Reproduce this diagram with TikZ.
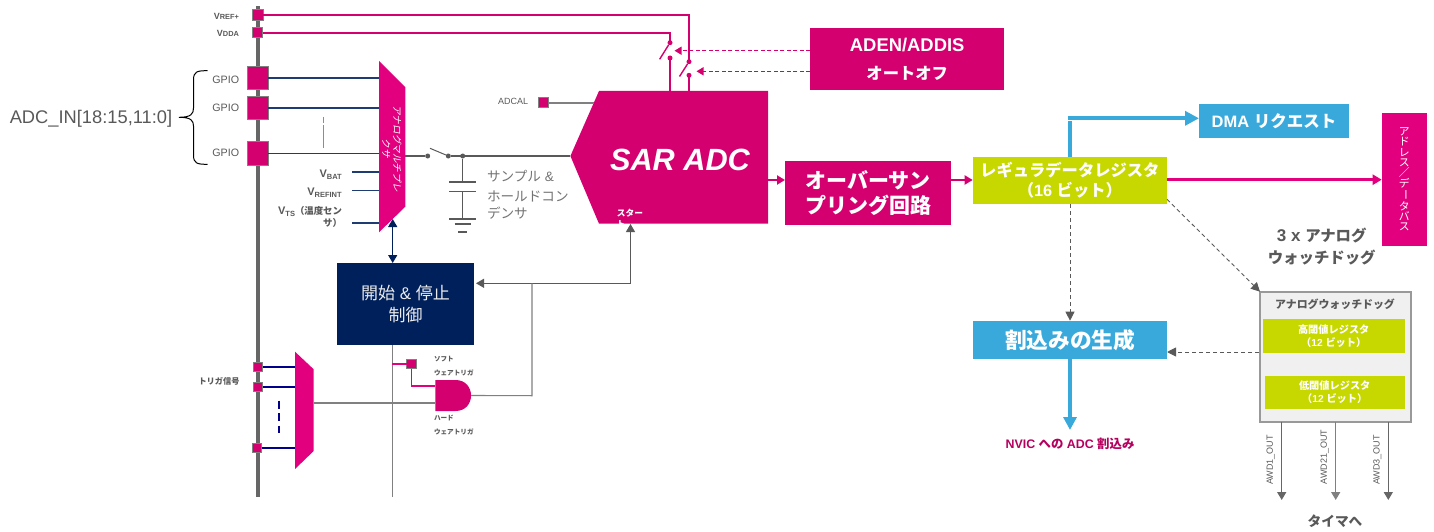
\documentclass[tikz,border=0pt]{standalone}
\usepackage{fontspec}
\usetikzlibrary{arrows.meta,calc}
\setmainfont{Liberation Sans}
\newfontfamily\jp{Noto Sans CJK JP}
\newfontfamily\jpslant[FakeSlant=0.2]{Noto Sans CJK JP}
\newcommand\J[1]{{\jp #1}}
\newcommand\fsz[1]{\fontsize{#1}{#1}\selectfont}
\definecolor{mag}{HTML}{D5006F}
\definecolor{magb}{HTML}{E2007E}
\definecolor{lime}{HTML}{C6D800}
\definecolor{sky}{HTML}{39A9DC}
\definecolor{navy}{HTML}{00205B}
\definecolor{dkg}{HTML}{595959}
\definecolor{busg}{HTML}{666666}
\definecolor{midg}{HTML}{808080}
\definecolor{blu}{HTML}{00008B}
\definecolor{wire}{HTML}{1F3B73}
\tikzset{
  blk/.style={draw=none,inner sep=0pt,outer sep=0pt,align=center,text=white,font=\bfseries},
  pad/.style={fill=mag,draw=midg,line width=1pt,inner sep=0pt,outer sep=0pt},
  ghost/.style={inner sep=0pt,outer sep=0pt},
  lbl/.style={inner sep=0pt,outer sep=0pt,text=dkg,align=center},
  rlbl/.style={lbl,anchor=east,align=right},
  busline/.style={draw=busg,line width=3.6pt},
  wireline/.style={draw=wire,line width=1.3pt},
  trigline/.style={draw=blu,line width=1.6pt},
  greyline/.style={draw=midg,line width=1.6pt},
  thing/.style={draw=dkg,line width=1.4pt},
  pwr/.style={draw=mag,line width=2pt},
  ctl/.style={draw=mag,line width=1.2pt,dash pattern=on 4pt off 2.5pt,-{Triangle[length=7pt,width=8pt]}},
  dsh/.style={draw=dkg,line width=.9pt,dash pattern=on 4pt off 3pt,-{Triangle[length=9pt,width=9pt]}},
  grar/.style={line width=1.5pt,-{Triangle[length=8pt,width=9pt]}},
  magar/.style={draw=mag,line width=2.2pt,-{Triangle[length=8pt,width=9pt]}},
  skyar/.style={draw=sky,-{Triangle[length=13pt,width=13pt]}},
  sw/.style={circle,fill=dkg,inner sep=0pt,minimum size=5pt},
  swm/.style={circle,fill=mag,inner sep=0pt,minimum size=5pt},
}
% name, x1,y1,x2,y2, style, text
\newcommand\bx[7]{%
  \pgfmathsetmacro\bxa{(#2+#4)/2}\pgfmathsetmacro\bxb{(#3+#5)/2}%
  \pgfmathsetmacro\bxw{#4-#2}\pgfmathsetmacro\bxh{#5-#3}%
  \node[#6,minimum width=\bxw pt,minimum height=\bxh pt] (#1) at (\bxa,\bxb) {#7};}
\begin{document}
\begin{tikzpicture}[x=1pt,y=-1pt]
\useasboundingbox (0,0) rectangle (1434,532);
% ---------- buses
\coordinate (bustop) at (257.7,6);
\coordinate (busbot) at (257.7,496.5);
\draw[busline] (bustop) -- (busbot);
% ---------- ghost extents of drawn polygons
\bx{mux}{379}{61}{405.3}{232.3}{ghost}{}
\bx{mxt}{295}{351.7}{313.7}{469}{ghost}{}
\bx{sar}{570.4}{91}{768}{223.7}{ghost}{}
% ---------- control box
\bx{ctrl}{337}{263}{474}{345}{blk,fill=navy,font=\normalfont\fsz{17},text=white!92!black}{\J{開始} \& \J{停止}\\[5.5pt]\J{制御}}
\coordinate (ctrlbus) at (392.3,497);
\draw[greyline] (ctrl.south -| ctrlbus) -- (ctrlbus);
% ---------- GPIO
\bx{gpio1}{247}{66.3}{268.3}{90}{pad}{}
\bx{gpio2}{247}{96.3}{268.3}{119.7}{pad}{}
\bx{gpio3}{247}{141.7}{268.3}{165}{pad}{}
\foreach \n/\y in {gl1/80,gl2/108,gl3/153}{\node[lbl,font=\fsz{10.7}] (\n) at (225.7,\y) {GPIO};}
\draw[wireline] (gpio1.east) -- (gpio1.east -| mux.west);
\draw[wireline] (gpio2.east) -- (gpio2.east -| mux.west);
\draw[wireline] (gpio3.east) -- (gpio3.east -| mux.west);
\coordinate (da) at (323.3,117); \coordinate (db) at (323.3,148.3);
\draw[draw=sky,line width=.9pt,dash pattern=on 6pt off 2pt on 24pt off 4pt] (da) -- (db);
% brace
\coordinate (bt) at (207.5,70.7); \coordinate (bb) at (207.5,164.3); \coordinate (bm) at (179,117.3);
\draw[black,line width=1pt] (bt) .. controls (197,70.7) and (193.5,71.5) .. (193.5,80)
  -- (193.5,108) .. controls (193.5,114) and (191,117.3) .. (bm)
  .. controls (191,117.3) and (193.5,120.5) .. (193.5,126)
  -- (193.5,155) .. controls (193.5,163.5) and (197,164.3) .. (bb);
\node[lbl,font=\fsz{18.3}] (adcin) at (91,119) {ADC\_IN[18:15,11:0]};
% ---------- power
\bx{vref}{252.3}{10}{263}{20.7}{pad}{}
\bx{vdda}{252.7}{27.7}{262.7}{37.7}{pad}{}
\node[rlbl] (lvref) at (239,16.7) {\bfseries\fsz{9}V\fsz{7.4}REF+};
\node[rlbl] (lvdda) at (239,33) {\bfseries\fsz{9}V\fsz{7.4}DDA};
\coordinate (s1t) at (670,42.7); \coordinate (s1b) at (670,58);
\coordinate (s2t) at (689,61.7); \coordinate (s2b) at (689,75.3);
\draw[pwr] (vref.east) -- (vref.east -| s2t) -- (s2t);
\draw[pwr] (vdda.east) -- (vdda.east -| s1t) -- (s1t);
\draw[pwr] (s1b) -- (s1b |- sar.north);
\draw[pwr] (s2b) -- (s2b |- sar.north);
\node[swm] (d1) at (s1t) {}; \node[swm] (d2) at (s1b) {};
\node[swm] (d3) at (s2t) {}; \node[swm] (d4) at (s2b) {};
\coordinate (b1) at (659.6,59.3); \coordinate (b2) at (679.5,76.5);
\draw[pwr,line width=1.4pt] (d1) -- (b1);
\draw[pwr,line width=1.4pt] (d3) -- (b2);
\bx{aden}{810.4}{28.3}{1004}{90}{blk,fill=mag}{\fsz{18.4}ADEN/ADDIS\\[14pt]\fsz{16.3}\J{オートオフ}}
\coordinate (c1) at (674.5,50.7); \coordinate (c2) at (696.5,71.3);
\draw[ctl] (aden.west |- c1) -- (c1);
\draw[ctl] (aden.west |- c2) -- (c2);
% ---------- SAR ADC
\fill[mag] (599,91) -- (768,91) -- (768,223.7) -- (599,223.7) -- (570.4,156) -- cycle;
\node[blk,font=\bfseries\itshape\fsz{30.7}] (sart) at (680,160) {SAR ADC};
\node[blk,font=\bfseries\fsz{8.7}\jp] (star) at (630,213) {スター};
\node[blk,font=\bfseries\fsz{8.7}\jp] (start) at (621,224.5) {ト};
\bx{adcalp}{538.6}{98}{548}{108}{pad}{}
\node[lbl,font=\fsz{9}] (adcal) at (513,101.7) {ADCAL};
\coordinate (adcalin) at (594,103);
\draw[greyline] (adcalp.east) -- (adcalin);
% ---------- analog mux
\fill[magb] (379,61) -- (405.3,87.3) -- (405.3,206.7) -- (379,232.3) -- cycle;
\node[blk,font=\normalfont\fsz{9.6}\jpslant,rotate=-90,align=center] (muxt) at (392,148.5) {アナログマルチプレ\\[1.5pt]クサ};
\foreach \n/\y in {vb/172,vr/190.3,vt/223}{\coordinate (\n) at (352,\y); \draw[wireline] (\n) -- (\n -| mux.west);}
\node[rlbl] (lvb) at (341.7,174.5) {\fsz{11}\textbf{V}\raisebox{-2pt}{\bfseries\fsz{7.5}BAT}};
\node[rlbl] (lvr) at (341.7,192.5) {\fsz{11}\textbf{V}\raisebox{-2pt}{\bfseries\fsz{7.5}REFINT}};
\node[rlbl] (lvt1) at (342,211) {\fsz{11}\textbf{V}\raisebox{-2pt}{\bfseries\fsz{7.5}TS}\bfseries\fsz{9.4}\jp（温度セン};
\node[rlbl] (lvt2) at (342,223) {\bfseries\fsz{9.4}\jp サ）};
\coordinate (muxarr) at (392.7,219);
\draw[draw=navy,line width=1.3pt,{Triangle[length=8pt,width=9pt]}-{Triangle[length=8pt,width=9pt]}] (muxarr) -- (muxarr |- ctrl.north);
% ---------- sample line
\coordinate (si) at (405.3,156);
\coordinate (sp) at (570.4,156);
\node[sw] (n1) at (427.7,156) {}; \node[sw] (n2) at (448.3,156) {}; \node[sw] (n3) at (462.7,156) {};
\coordinate (bl) at (430,148.3);
\draw[thing] (si) -- (n1);
\draw[thing] (n2) -- (sp);
\draw[thing,line width=1pt] (bl) -- (n2);
\coordinate (p1) at (462.7,182); \coordinate (p2) at (462.7,191.3); \coordinate (gn) at (462.7,219);
\draw[thing] (n3) -- (p1);
\draw[thing] (p2) -- (gn);
\draw[thing] ($(p1)+(-13.5,0)$) -- ($(p1)+(13.5,0)$);
\draw[thing] ($(p2)+(-13.5,0)$) -- ($(p2)+(13.5,0)$);
\draw[thing] ($(gn)+(-13.5,0)$) -- ($(gn)+(13.5,0)$);
\draw[thing] ($(gn)+(-8,5)$) -- ($(gn)+(8,5)$);
\draw[thing] ($(gn)+(-4.5,13)$) -- ($(gn)+(4.5,13)$);
\node[lbl,anchor=west,text=midg!90!black,font=\fsz{13.6}] (sh1) at (487,175.7) {\J{サンプル} \&};
\node[lbl,anchor=west,text=midg!90!black,font=\fsz{13.6}\jp] (sh2) at (487,196) {ホールドコン};
\node[lbl,anchor=west,text=midg!90!black,font=\fsz{13.6}\jp] (sh3) at (487,213.3) {デンサ};
% ---------- start path
\coordinate (sartarget) at (630.5,224);
\coordinate (jn) at (532,283.3);
\draw[thing,line width=1.1pt,-{Triangle[length=8pt,width=9pt]}] (jn) -- (sartarget |- jn) -- (sartarget);
\draw[thing,line width=1.1pt,-{Triangle[length=8pt,width=9pt]}] (jn) -- (476,283.3);
% ---------- trigger mux
\fill[magb] (295,351.7) -- (313.7,369.3) -- (313.7,451) -- (295,469) -- cycle;
\bx{t1}{253.3}{362.3}{262.7}{371.7}{pad}{}
\bx{t2}{253.6}{382.3}{262.7}{391.7}{pad}{}
\bx{t3}{252.3}{443.3}{261.7}{452.7}{pad}{}
\draw[trigline] (t1.east) -- (t1.east -| mxt.west);
\draw[trigline] (t2.east) -- (t2.east -| mxt.west);
\draw[trigline] (t3.east) -- (t3.east -| mxt.west);
\coordinate (ta) at (278.7,400.7); \coordinate (tb) at (278.7,433);
\draw[trigline,dash pattern=on 8pt off 4.5pt] (ta) -- (tb);
\node[lbl,font=\bfseries\fsz{8.2}\jp] (trig) at (219,381.7) {トリガ信号};
% ---------- AND gate
\fill[mag] (435.3,380) -- (455.5,380) .. controls (476.2,380) and (476.2,411) .. (455.5,411) -- (435.3,411) -- cycle;
\node[ghost,minimum width=36pt,minimum height=31pt] (andg) at (453.2,395.5) {};
\coordinate (andin1) at (435.3,386); \coordinate (andin2) at (435.3,403);
\draw[greyline] (mxt.east |- andin2) -- (andin2);
\bx{softp}{406.7}{359.3}{416}{368.7}{pad}{}
\draw[draw=magb,line width=1.3pt] (softp.west) -- (softp.west -| ctrlbus);
\draw[draw=magb,line width=1.3pt] (softp.south) -- (softp.south |- andin1) -- (andin1);
\coordinate (ao) at (532,395.7);
\draw[greyline,line width=1.1pt] (andg.east) -- (ao) -- (jn);
\foreach \n/\y/\t in {a1/359.3/ソフト,a2/373.3/ウェアトリガ,a3/418/ハード,a4/432/ウェアトリガ}{
  \node[lbl,anchor=west,font=\bfseries\fsz{6.6}\jp] (\n) at (434,\y) {\t};}
% ---------- oversampling, regular data
\bx{ovs}{785}{161}{951}{224.7}{blk,fill=mag}{\fsz{21}\jp オーバーサン\\[4pt]\fsz{21}\jp プリング回路}
\bx{reg}{972.7}{156.7}{1167}{204}{blk,fill=lime}{\fsz{16.3}\jp レギュラデータレジスタ\\[3pt]\fsz{16.3}\J{（}16 \J{ビット）}}
\coordinate (sarout) at (768,180);
\draw[magar] (sarout) -- (ovs.west |- sarout);
\coordinate (ovsout) at (951,180);
\draw[magar] (ovsout) -- (reg.west |- ovsout);
\bx{bus}{1381.7}{112.7}{1426.7}{246}{blk,fill=magb,font=\normalfont\fsz{10.8}\jp}{ア\\[-.4pt]ド\\[-.4pt]レ\\[-.4pt]ス\\[-.4pt]／\\[-.4pt]デ\\[-.4pt]\rotatebox[origin=c]{-90}{ー}\\[-.4pt]タ\\[-.4pt]バ\\[-.4pt]ス}
\coordinate (regout) at (1167,179.7);
\draw[draw=magb,line width=3pt,-{Triangle[length=9pt,width=10pt]}] (regout) -- (bus.west |- regout);
% ---------- DMA
\bx{dma}{1199}{103.7}{1349}{138.3}{blk,fill=sky}{\fsz{16.5}DMA \J{リクエスト}}
\coordinate (regtop) at (1070,156.7); \coordinate (regmid) at (1070,121);
\draw[draw=sky,line width=4.6pt] (regtop) -- (regmid);
\coordinate (dmaelbow) at (1070,118.3);
\draw[draw=sky,line width=4pt,-{Triangle[length=14pt,width=14pt]}] ($(dmaelbow)+(-2.3,0)$) -- (dma.west |- dmaelbow);
% ---------- interrupt
\bx{irq}{973.3}{320.7}{1167}{359.3}{blk,fill=sky}{\fsz{21.7}\jp 割込みの生成}
\draw[dsh] (regtop |- reg.south) -- (regtop |- irq.north);
\coordinate (irqout) at (1070,430);
\draw[skyar,line width=4pt] (regtop |- irq.south) -- (irqout);
\node[inner sep=0pt,font=\bfseries\fsz{12.4},text=mag!85!black] (nvic) at (1070,444.3) {NVIC \J{への} ADC \J{割込み}};
% ---------- watchdog
\node[lbl,font=\bfseries\fsz{15.4}] (w1) at (1321.7,235.7) {\fsz{17}3 x \fsz{15.4}\J{アナログ}};
\node[lbl,font=\bfseries\fsz{15.4}\jp] (w2) at (1321.7,257.7) {ウォッチドッグ};
\bx{awd}{1260}{291.7}{1410.7}{422.3}{fill=black!6,draw=black!40,line width=1.8pt,inner sep=0pt,outer sep=0pt}{}
\node[lbl,font=\bfseries\fsz{10.9}\jp] (awt) at (1335,304.3) {アナログウォッチドッグ};
\bx{hi}{1262.7}{319.3}{1404.7}{352.7}{blk,fill=lime}{\fsz{10.2}\jp 高閾値レジスタ\\[1.5pt]\fsz{10.2}\J{（}12 \J{ビット）}}
\bx{lo}{1264.7}{375.7}{1404.7}{409}{blk,fill=lime}{\fsz{10.2}\jp 低閾値レジスタ\\[1.5pt]\fsz{10.2}\J{（}12 \J{ビット）}}
\coordinate (rc) at (1167,199.3);
\draw[dsh] (rc) -- (awd.north west);
\coordinate (awl) at (1259,352);
\draw[dsh] (awl) -- (irq.east |- awl);
\foreach \n/\x/\c/\yy/\t in {o1/1281.7/busg/460/AWD1\_OUT,o2/1335.7/midg/457.3/AWD21\_OUT,o3/1388.3/busg/460/AWD3\_OUT}{
  \coordinate (\n) at (\x,500);
  \draw[grar,draw=\c] (\n |- awd.south) -- (\n);
  \node[lbl,rotate=90,font=\fsz{9}] (\n l) at (\x-11,\yy) {\t};
}
\node[lbl,font=\bfseries\fsz{13.7}\jp] (tm) at (1335,521.7) {タイマへ};
\end{tikzpicture}
\end{document}
